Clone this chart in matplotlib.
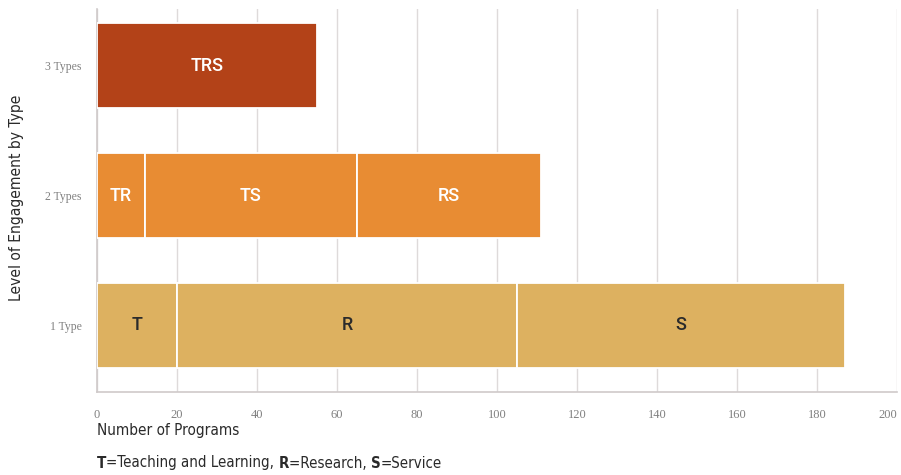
import matplotlib
matplotlib.use("Agg")
import matplotlib.pyplot as plt
from matplotlib import font_manager

# ---- data ----
levels = ["1 Type", "2 Types", "3 Types"]
one_type_segments = ["T", "R", "S"]
one_type_values = [20, 85, 82]
two_types_segments = ["TR", "TS", "RS"]
two_types_values = [12, 53, 46]
three_types_segments = ["TRS"]
three_types_values = [55]
x_ticks = [0, 20, 40, 60, 80, 100, 120, 140, 160, 180, 200]

segments = [one_type_segments, two_types_segments, three_types_segments]
values = [one_type_values, two_types_values, three_types_values]
colors = ["#DDB160", "#E88C33", "#B34218"]
text_colors = ["#2b2b2b", "#ffffff", "#ffffff"]

# pick a condensed font if available
fonts = font_manager.fontManager.ttflist
names = set(f.name for f in fonts)
cond_kw = {}
scale = 1.0
if "Liberation Sans Narrow" in names:
    cond_kw = dict(fontfamily="Liberation Sans Narrow")
elif any(f.name == "DejaVu Sans" and str(f.stretch) in ("condensed", "semi-condensed", "600", "500") for f in fonts):
    cond_kw = dict(fontfamily="DejaVu Sans", fontstretch="condensed")
else:
    cond_kw = dict(fontfamily="DejaVu Sans")
    scale = 0.84

fig = plt.figure(figsize=(9.01, 4.75), dpi=100)
ax = fig.add_axes([97/901, 83/475, 800/901, 383/475])

for yi, (segs, vals) in enumerate(zip(segments, values)):
    left = 0
    for s, v in zip(segs, vals):
        ax.barh(yi, v, left=left, height=0.655, color=colors[yi],
                edgecolor="white", linewidth=1.3, zorder=3)
        ax.text(left + v / 2, yi, s, ha="center", va="center",
                color=text_colors[yi], fontsize=13, fontfamily="Roboto",
                fontweight="medium", zorder=4)
        left += v

ax.set_xlim(0, 200)
ax.set_ylim(-0.5125, 2.439)
ax.set_xticks(x_ticks)
xl = ax.set_xticklabels([str(t) for t in x_ticks], fontfamily="Liberation Serif",
                        fontsize=9, color="#808080")
xl[-1].set_horizontalalignment("right")
ax.set_yticks(range(len(levels)))
ax.set_yticklabels(levels, fontfamily="Liberation Serif", fontsize=8.5,
                   color="#808080")
ax.tick_params(axis="both", length=0)
ax.tick_params(axis="x", pad=12)
ax.tick_params(axis="y", pad=11)

ax.grid(axis="x", color="#dedada", linewidth=1.0, zorder=0)
ax.set_axisbelow(True)
for sp in ["top", "right"]:
    ax.spines[sp].set_visible(False)
ax.spines["left"].set_color("#cfcaca")
ax.spines["bottom"].set_color("#cfcaca")
ax.spines["left"].set_linewidth(1.2)
ax.spines["bottom"].set_linewidth(1.2)

fig.text(97/901, 1 - 431/475, "Number of Programs", fontsize=11 * scale,
         color="#2a2a2a", ha="left", va="center", **cond_kw)
fig.text(17/901, 1 - 198/475, "Level of Engagement by Type", fontsize=11.2 * scale,
         color="#2a2a2a", ha="center", va="center", rotation=90, **cond_kw)

# footnote with bold letters
fs_note = 10.8 * scale
pieces = [("T", "bold"), ("=Teaching and Learning, ", "normal"), ("R", "bold"),
          ("=Research, ", "normal"), ("S", "bold"), ("=Service", "normal")]
prev = fig.text(97/901, 1 - 463/475, pieces[0][0], fontsize=fs_note,
                fontweight=pieces[0][1], color="#2a2a2a",
                ha="left", va="center", **cond_kw)
for txt, w in pieces[1:]:
    prev = ax.annotate(txt, xy=(1, 0), xycoords=prev, ha="left", va="bottom",
                       fontsize=fs_note, fontweight=w, color="#2a2a2a",
                       annotation_clip=False, **cond_kw)

fig.savefig("out.png", dpi=100)
